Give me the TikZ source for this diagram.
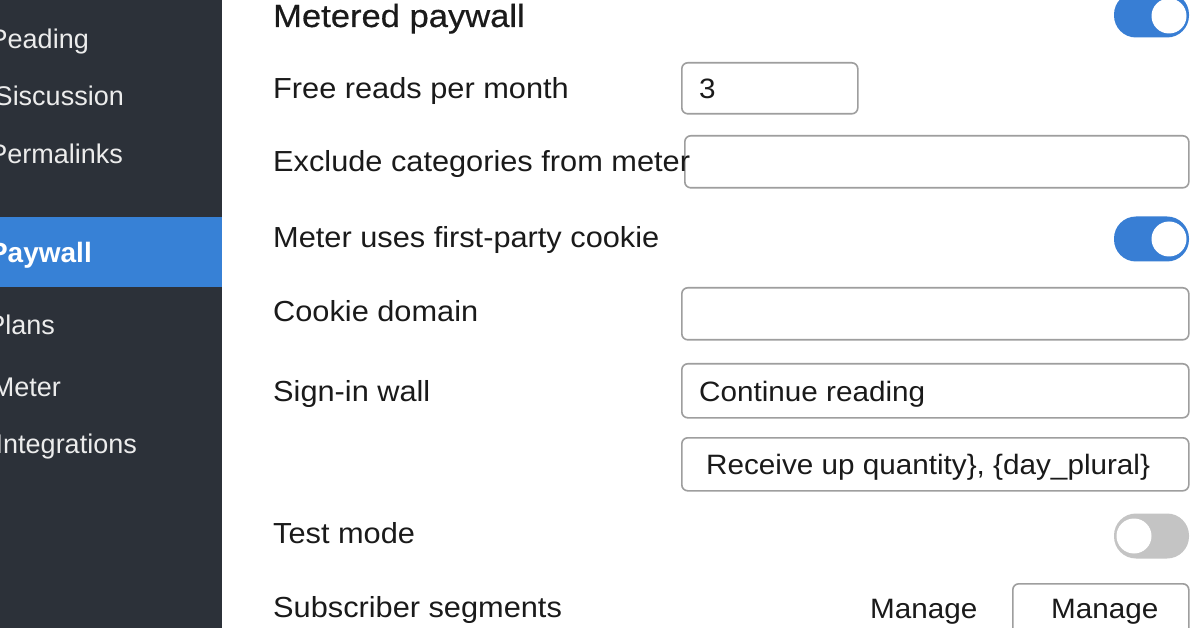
\documentclass[tikz,border=0pt]{standalone}
\usepackage{fontspec}
\setmainfont{Liberation Sans}[FakeStretch=1.06]
\newfontfamily\headfont{Liberation Sans}[FakeStretch=1.08, FakeBold=0.5]
\newfontfamily\sidefont{Liberation Sans}
\definecolor{sidebg}{RGB}{44,49,57}
\definecolor{activeblue}{RGB}{55,129,214}
\definecolor{toggleblue}{RGB}{56,126,212}
\definecolor{togglegray}{RGB}{196,196,196}
\definecolor{fieldgray}{RGB}{158,158,158}
\definecolor{ink}{RGB}{26,26,26}
\definecolor{sideink}{RGB}{236,236,236}
\tikzset{
  sideitem/.style={anchor=base east, text=sideink, inner sep=0pt, font=\sidefont\fontsize{27}{32}\selectfont},
  rowlabel/.style={anchor=base west, text=ink, inner sep=0pt, font=\fontsize{29}{34}\selectfont},
  fieldtext/.style={anchor=base west, text=ink, inner sep=0pt, font=\fontsize{28}{33}\selectfont},
  field/.style={draw=fieldgray, line width=1.6pt, rounded corners=6pt, fill=white, anchor=north west, inner sep=0pt},
  togglepill/.style={rounded corners=22pt, minimum width=75pt, minimum height=45pt, inner sep=0pt},
  knob/.style={circle, fill=white, minimum size=35pt, inner sep=0pt}
}
\begin{document}
\begin{tikzpicture}[x=1pt, y=-1pt]
  \useasboundingbox (0,0) rectangle (1200,628);
  \fill[white] (0,0) rectangle (1200,628);
  % sidebar
  \fill[sidebg] (0,0) rectangle (222,628);
  \fill[activeblue] (0,217) rectangle (222,287);
  \node[sideitem] (reading) at (89,49) {Peading};
  \node[sideitem] (discussion) at (124,106) {Siscussion};
  \node[sideitem] (permalinks) at (123,164) {Permalinks};
  \node[sideitem, font=\sidefont\bfseries\fontsize{28}{32}\selectfont, text=white] (paywall) at (92,263) {Paywall};
  \node[sideitem] (plans) at (55,335) {Plans};
  \node[sideitem] (meter) at (61,396) {Meter};
  \node[sideitem] (integrations) at (137,453) {Integrations};
  % input fields
  \node[field, minimum width=176pt, minimum height=51pt] (readsbox) at (681,62) {};
  \node[fieldtext] (readsval) at (699,99) {3};
  \node[field, minimum width=504pt, minimum height=52pt] (excludebox) at (684,135) {};
  \node[field, minimum width=507pt, minimum height=52pt] (domainbox) at (681,287) {};
  \node[field, minimum width=507pt, minimum height=54pt] (signinbox) at (681,363) {};
  \node[fieldtext] (signinval) at (699,401) {Continue reading};
  \node[field, minimum width=507pt, minimum height=53pt] (receivebox) at (681,437) {};
  \node[fieldtext] (receiveval) at (706,474) {Receive up quantity\}, \{day\_plural\}};
  % settings rows
  \node[rowlabel, font=\headfont\fontsize{32}{36}\selectfont] (metered) at (273,27) {Metered paywall};
  \node[rowlabel] (freereads) at (273,99) {Free reads per month};
  \node[rowlabel] (exclude) at (273,172) {Exclude categories from meter};
  \node[rowlabel] (firstparty) at (273,248) {Meter uses first-party cookie};
  \node[rowlabel] (cookiedomain) at (273,322) {Cookie domain};
  \node[rowlabel] (signin) at (273,401) {Sign-in wall};
  \node[rowlabel] (testmode) at (273,543) {Test mode};
  \node[rowlabel] (segments) at (273,617) {Subscriber segments};
  % toggles
  \node[togglepill, fill=toggleblue] (meteredsw) at (1151.5,15) {};
  \node[knob] (meteredknob) at (1169,16) {};
  \node[togglepill, fill=toggleblue] (firstpartysw) at (1151.5,239) {};
  \node[knob] (firstpartyknob) at (1169,239) {};
  \node[togglepill, fill=togglegray] (testsw) at (1151.5,536) {};
  \node[knob] (testknob) at (1134,536) {};
  % manage
  \node[fieldtext] (managelink) at (870,618) {Manage};
  \node[field, minimum width=176pt, minimum height=60pt] (managebtn) at (1012,583) {};
  \node[fieldtext] (manageval) at (1051,618) {Manage};
\end{tikzpicture}
\end{document}
